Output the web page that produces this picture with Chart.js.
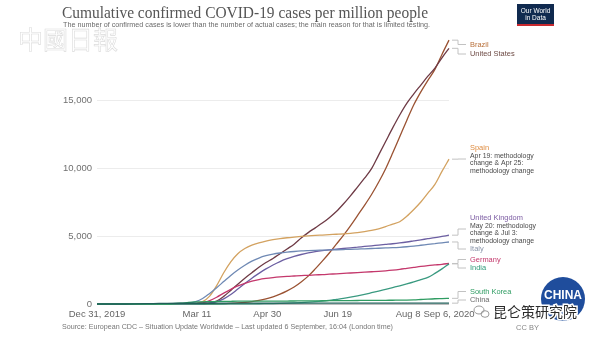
<!DOCTYPE html>
<html>
<head>
<meta charset="utf-8">
<script src="https://cdn.jsdelivr.net/npm/chart.js@4.4.1/dist/chart.umd.min.js"></script>
<style>
  body { margin: 0; background: #fff; }
  canvas { display: block; }
</style>
</head>
<body>
<canvas id="casesChart" width="600" height="338"></canvas>
<script>
// days since Dec 31, 2019
const days = [0, 20, 40, 50, 60, 65, 70, 75, 80, 85, 90, 95, 100, 105, 110, 115, 120, 125, 130, 135, 140, 145,
  150, 155, 160, 165, 170, 175, 180, 185, 190, 195, 200, 205, 210, 215, 220, 225, 230, 235, 240, 245, 250];

const brazil = [0, 0, 0, 0, 0, 0, 0.2, 1, 4, 12, 25, 50, 80, 120, 180, 260, 370, 520, 720, 960, 1250, 1620,
  2050, 2580, 3150, 3750, 4400, 5050, 5750, 6500, 7250, 8050, 8950, 9950, 11100, 12300, 13500, 14650, 15600, 16450, 17250, 18350, 19400];
const unitedStates = [0, 0, 0, 0, 0.2, 1, 3, 15, 60, 210, 560, 1000, 1460, 1900, 2300, 2700, 3050, 3350, 3700, 4050, 4400, 4850,
  5250, 5600, 5950, 6350, 6800, 7350, 7950, 8600, 9250, 9950, 10950, 11950, 12950, 13900, 14750, 15450, 16100, 16750, 17350, 18100, 18800];
const spain = [0, 0, 0, 0, 1, 5, 40, 170, 580, 1350, 2300, 3100, 3700, 4080, 4330, 4500, 4630, 4730, 4810, 4870, 4920, 4965,
  5005, 5040, 5070, 5100, 5130, 5160, 5200, 5250, 5320, 5410, 5530, 5690, 5880, 6050, 6450, 6950, 7500, 8150, 8800, 9750, 10650];
const unitedKingdom = [0, 0, 0, 0, 0.5, 2, 8, 20, 60, 170, 380, 700, 1100, 1500, 1900, 2250, 2580, 2870, 3120, 3330, 3500, 3640,
  3760, 3850, 3920, 3975, 4030, 4080, 4130, 4180, 4230, 4280, 4330, 4380, 4430, 4490, 4560, 4640, 4720, 4800, 4880, 4970, 5060];
const italy = [0, 0, 0, 2, 20, 60, 170, 400, 780, 1200, 1650, 2100, 2500, 2850, 3150, 3380, 3550, 3670, 3750, 3810, 3860, 3900,
  3925, 3945, 3960, 3975, 3990, 4005, 4020, 4040, 4060, 4080, 4100, 4120, 4140, 4170, 4210, 4260, 4320, 4380, 4440, 4500, 4560];
const germany = [0, 0, 0, 0.3, 2, 8, 25, 80, 250, 500, 800, 1080, 1330, 1520, 1680, 1800, 1880, 1940, 1990, 2030, 2060, 2090,
  2110, 2140, 2160, 2190, 2220, 2250, 2280, 2310, 2340, 2370, 2400, 2440, 2490, 2550, 2620, 2690, 2760, 2820, 2870, 2920, 2980];
const india = [0, 0, 0, 0, 0, 0, 0, 0, 0.3, 0.6, 1.2, 3, 5, 8, 12, 17, 24, 32, 45, 60, 80, 105,
  135, 170, 215, 270, 340, 410, 500, 600, 710, 830, 950, 1080, 1210, 1340, 1480, 1630, 1800, 1960, 2250, 2580, 2950];
const southKorea = [0, 0, 0, 1, 60, 115, 150, 160, 175, 185, 195, 200, 205, 208, 210, 211, 212, 213, 215, 218, 222, 226,
  230, 234, 238, 242, 246, 250, 254, 258, 262, 265, 268, 272, 276, 280, 285, 300, 330, 360, 385, 400, 416];
const china = [0, 0.5, 30, 52, 55, 56, 56, 56, 56, 57, 57, 57, 58, 58, 58, 58, 58, 58, 58, 58, 58, 58,
  58, 58, 58, 58, 58, 58, 59, 59, 59, 59, 59, 60, 60, 60, 60, 61, 61, 61, 62, 62, 62];

const tickDays = [0, 71, 121, 171, 221, 250];
const tickLabels = ['Dec 31, 2019', 'Mar 11', 'Apr 30', 'Jun 19', 'Aug 8', 'Sep 6, 2020'];
const yTicks = [0, 5000, 10000, 15000];

// name, values, line colour, label colour, label y, connector y, notes
const countries = [
  { name: 'China', values: china, line: '#1f5f58', text: '#6a6a6a', y: 300, hook: 300 },
  { name: 'South Korea', values: southKorea, line: '#2f9c62', text: '#2f9c62', y: 291.5, hook: 291.5 },
  { name: 'India', values: india, line: '#3a9a80', text: '#2f9a78', y: 268, hook: 268 },
  { name: 'Germany', values: germany, line: '#c4386c', text: '#c4386c', y: 259.5, hook: 259.5 },
  { name: 'Italy', values: italy, line: '#6f89b4', text: '#8893a8', y: 249, hook: 249 },
  { name: 'United Kingdom', values: unitedKingdom, line: '#6c5fa2', text: '#7b5ba2', y: 217.5, hook: 229,
    notes: ['May 20: methodology', 'change & Jul 3:', 'methodology change'] },
  { name: 'Spain', values: spain, line: '#d3a260', text: '#de8a3e', y: 147.5, hook: 159,
    notes: ['Apr 19: methodology', 'change & Apr 25:', 'methodology change'] },
  { name: 'United States', values: unitedStates, line: '#6e3a45', text: '#6d4a44', y: 54, hook: 54 },
  { name: 'Brazil', values: brazil, line: '#9a5232', text: '#b8703a', y: 44.5, hook: 44.5 }
];

function put(ctx, str, x, y, font, color, maxW, align) {
  ctx.font = font;
  ctx.fillStyle = color;
  ctx.textAlign = align || 'left';
  if (maxW) ctx.fillText(str, x, y, maxW);
  else ctx.fillText(str, x, y);
}

function squeeze(ctx, str, font, k) {
  ctx.font = font;
  return ctx.measureText(str).width * k;
}

const overlay = {
  id: 'overlay',
  afterDraw(chart) {
    const ctx = chart.ctx;
    const xs = chart.scales.x;
    const ys = chart.scales.y;
    ctx.save();

    // watermark top left
    ctx.font = "25px 'Noto Sans CJK TC'";
    ctx.strokeStyle = '#dcdcdc';
    ctx.lineWidth = 0.6;
    ctx.textBaseline = 'middle';
    ctx.strokeText('中國日報', 18, 39, 100);

    ctx.textBaseline = 'alphabetic';
    put(ctx, 'Cumulative confirmed COVID-19 cases per million people', 62, 17.5, "17px 'Liberation Serif'", '#555', 366);
    ctx.textBaseline = 'middle';
    put(ctx, 'The number of confirmed cases is lower than the number of actual cases; the main reason for that is limited testing.',
      63, 24.5, "8px 'Liberation Sans'", '#6a6a6a', 367);

    // OWID logo
    ctx.fillStyle = '#102a4f';
    ctx.fillRect(517, 4, 37, 22);
    ctx.fillStyle = '#c8292f';
    ctx.fillRect(517, 24, 37, 2);
    ctx.textAlign = 'center';
    ctx.fillStyle = '#fff';
    ctx.font = "6.5px 'Liberation Sans'";
    ctx.fillText('Our World', 535.5, 11);
    ctx.fillText('in Data', 535.5, 18);

    // end labels with connectors
    const xEnd = xs.getPixelForValue(days[days.length - 1]);
    const labelFont = "8px 'Liberation Sans'";
    const noteFont = "7.5px 'Liberation Sans'";
    countries.forEach(c => {
      const yEnd = ys.getPixelForValue(c.values[c.values.length - 1]);
      ctx.strokeStyle = '#c2c2c2';
      ctx.lineWidth = 1;
      ctx.beginPath();
      ctx.moveTo(xEnd + 3, yEnd);
      ctx.lineTo(xEnd + 9, yEnd);
      ctx.lineTo(xEnd + 9, c.hook);
      ctx.lineTo(xEnd + 17, c.hook);
      ctx.stroke();
      put(ctx, c.name, 470, c.y, labelFont, c.text, squeeze(ctx, c.name, labelFont, 0.93));
      (c.notes || []).forEach((n, i) => {
        put(ctx, n, 470, c.y + 8 + i * 7.7, noteFont, '#4a4a4a', squeeze(ctx, n, noteFont, 0.92));
      });
    });

    // footer
    put(ctx, 'Source: European CDC – Situation Update Worldwide – Last updated 6 September, 16:04 (London time)',
      62, 326.5, "7.5px 'Liberation Sans'", '#777', 331);
    put(ctx, 'CC BY', 516, 327.5, "7.5px 'Liberation Sans'", '#888');

    // CHINA badge and account watermark
    ctx.beginPath();
    ctx.arc(563, 299, 22, 0, Math.PI * 2);
    ctx.fillStyle = '#1f4d9c';
    ctx.fill();
    ctx.textAlign = 'center';
    ctx.fillStyle = '#fff';
    ctx.font = "bold 12px 'Liberation Sans'";
    ctx.fillText('CHINA', 563, 296, 40);
    ctx.font = "14px 'Noto Sans CJK SC'";
    ctx.lineWidth = 3;
    ctx.strokeStyle = '#fff';
    ctx.textAlign = 'left';
    ctx.strokeText('昆仑策研究院', 493, 312, 88);
    ctx.fillStyle = '#2b2b2b';
    ctx.fillText('昆仑策研究院', 493, 312, 88);
    ctx.strokeStyle = '#999';
    ctx.lineWidth = 1;
    ctx.beginPath();
    ctx.ellipse(479, 310, 5, 4, 0, 0, Math.PI * 2);
    ctx.stroke();
    ctx.beginPath();
    ctx.ellipse(485, 314, 4, 3.3, 0, 0, Math.PI * 2);
    ctx.stroke();

    ctx.restore();
  }
};

Chart.defaults.font.family = "'Liberation Sans', Arial, sans-serif";

new Chart(document.getElementById('casesChart').getContext('2d'), {
  type: 'line',
  data: {
    datasets: countries.map(c => ({
      label: c.name,
      data: days.map((d, i) => ({ x: d, y: c.values[i] })),
      borderColor: c.line,
      borderWidth: 1.3,
      pointRadius: 0,
      cubicInterpolationMode: 'monotone',
      fill: false,
      clip: 4
    }))
  },
  options: {
    responsive: false,
    animation: false,
    devicePixelRatio: 1,
    layout: { padding: { top: 32, right: 151, bottom: 0, left: 0 } },
    plugins: {
      legend: { display: false },
      tooltip: { enabled: false }
    },
    scales: {
      x: {
        type: 'linear',
        min: 0,
        max: 250,
        grid: { display: false, drawTicks: false },
        border: { display: false },
        afterBuildTicks: s => { s.ticks = tickDays.map(v => ({ value: v })); },
        afterFit: s => { s.height = 34; },
        ticks: {
          autoSkip: false,
          maxRotation: 0,
          padding: 5,
          color: '#666',
          font: { size: 9.5 },
          callback: (v, i) => tickLabels[i]
        }
      },
      y: {
        min: 0,
        max: 20000,
        afterBuildTicks: s => { s.ticks = yTicks.map(v => ({ value: v })); },
        afterFit: s => { s.width = 97; },
        grid: {
          drawTicks: false,
          color: ctx => ctx.tick && ctx.tick.value === 0 ? '#bdbdbd' : '#ececec'
        },
        border: { display: false },
        ticks: {
          padding: 5,
          color: '#707070',
          font: { size: 9.5 },
          callback: v => v.toLocaleString('en-US')
        }
      }
    }
  },
  plugins: [overlay]
});
</script>
</body>
</html>
